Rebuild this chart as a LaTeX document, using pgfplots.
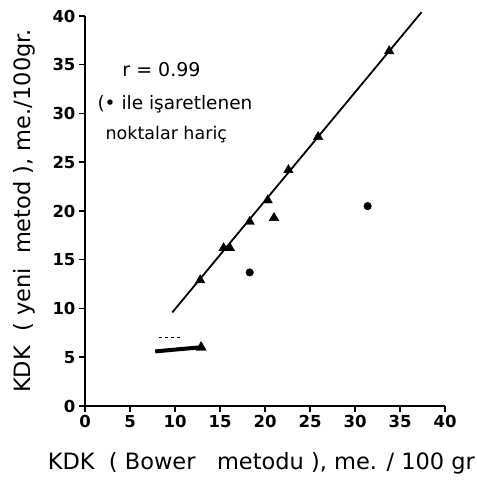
\documentclass[border=0pt]{standalone}
\usepackage{pgfplots}
\pgfplotsset{compat=1.18}
\usepackage{fontspec}
\setmainfont{DejaVu Sans}
\newcommand{\tickfont}{\fontsize{16.5}{16.5}\selectfont\bfseries}

\begin{document}
\begin{tikzpicture}
\useasboundingbox (-85pt,-75pt) rectangle (391pt,406pt);
\begin{axis}[
    at={(0,0)}, anchor=south west,
    width=360pt, height=390pt,
    scale only axis,
    axis lines=left,
    axis line style={-, line width=1.8pt},
    xmin=0, xmax=40, ymin=0, ymax=40,
    xtick={0,5,...,40}, ytick={0,5,...,40},
    xticklabels={0,5,10,15,20,25,30,35,40},
    yticklabels={0,5,10,15,20,25,30,35,40},
    tick align=outside,
    major tick length=6pt,
    tick style={line width=1.5pt, black},
    xticklabel style={font=\tickfont},
    yticklabel style={font=\tickfont},
    xlabel={KDK\ \ ( Bower\ \ \ metodu ), me. / 100 gr},
    ylabel={KDK\ \ ( yeni\ \ metod ), me./100gr.},
    xlabel style={font=\fontsize{22.5}{22.5}\selectfont, at={(axis description cs:0.49,-0.146)}, anchor=center},
    ylabel style={font=\fontsize{22.5}{22.5}\selectfont, at={(axis description cs:-0.17,0.50)}, anchor=center},
    clip=false,
]
% regression line
\addplot[black, line width=1.8pt] coordinates {(9.7,9.6) (37.4,40.4)};

% triangles
\addplot[only marks, mark=triangle*, mark size=5.5pt, black] coordinates {
    (12.8,12.9) (15.4,16.2) (16.1,16.2) (18.3,18.9) (20.3,21.1)
    (21.0,19.3) (22.6,24.2) (25.9,27.6) (33.8,36.4)
};

% excluded points
\addplot[only marks, mark=*, mark size=3.8pt, black] coordinates {
    (18.3,13.7) (31.4,20.5)
};

% smudge near the bottom
\addplot[black, line width=4pt] coordinates {(7.8,5.6) (12.6,6.0)};
\addplot[only marks, mark=triangle*, mark size=6pt, black] coordinates {(12.9,6.0)};
\addplot[black, dashed, line width=0.8pt] coordinates {(8.2,7.0) (10.6,7.0)};

\node[font=\fontsize{19}{19}\selectfont] at (axis cs:8.5,34.5) {r = 0.99};
\node[font=\fontsize{18.5}{18.5}\selectfont, anchor=west] at (axis cs:1.0,30.9) {(\textbullet\ ile işaretlenen};
\node[font=\fontsize{17.5}{17.5}\selectfont, anchor=west] at (axis cs:1.9,27.8) {noktalar hariç};
\end{axis}
\end{tikzpicture}
\end{document}
